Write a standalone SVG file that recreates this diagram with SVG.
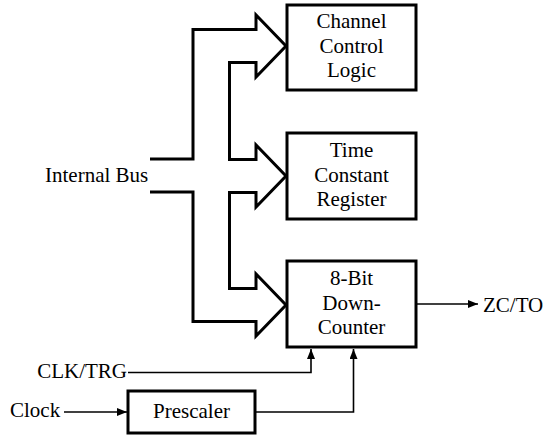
<svg xmlns="http://www.w3.org/2000/svg" width="554" height="438" viewBox="0 0 554 438">
<defs>
<marker id="ah" viewBox="0 0 10 8" refX="10" refY="4" markerWidth="10" markerHeight="8" markerUnits="userSpaceOnUse" orient="auto">
<path d="M0,0 L10,4 L0,8 Z" fill="#000"/>
</marker>
<style>
.box{fill:#fff;stroke:#000;stroke-width:3}
.bus{fill:none;stroke:#000;stroke-width:3;stroke-linejoin:miter}
.wire{fill:none;stroke:#000;stroke-width:1.6}
.t{font-family:'Liberation Serif','Times New Roman','DejaVu Serif',serif;font-size:21px;fill:#000}
.c{text-anchor:middle}
.e{text-anchor:end}
</style>
</defs>
<rect width="554" height="438" fill="#fff"/>
<g id="connectors">
<path id="internal-bus" class="bus" d="M150,159 H193 V29.5 H256 V15 L286,46 L256,77 V62.5 H229.5 V159.5 H256 V145 L286,176 L256,207 V192.5 H229.5 V288.5 H256 V274 L286,305 L256,336 V321.5 H193 V192 H150"/>
<path class="wire" d="M417,304 H478" marker-end="url(#ah)"/>
<path class="wire" d="M128,372.5 H311 V349" marker-end="url(#ah)"/>
<path class="wire" d="M64,412 H127" marker-end="url(#ah)"/>
<path class="wire" d="M255,412 H353.5 V349" marker-end="url(#ah)"/>
</g>
<g id="channel-control-logic" class="t" font-family="'Liberation Serif', 'Times New Roman', serif">
<rect class="box" x="287" y="5" width="129" height="85"/>
<text class="c" x="351.5" y="28">Channel</text>
<text class="c" x="351.5" y="53">Control</text>
<text class="c" x="351.5" y="77">Logic</text>
</g>
<g id="time-constant-register" class="t" font-family="'Liberation Serif', 'Times New Roman', serif">
<rect class="box" x="287" y="133" width="129" height="86"/>
<text class="c" x="351.5" y="157">Time</text>
<text class="c" x="351.5" y="182">Constant</text>
<text class="c" x="351.5" y="206">Register</text>
</g>
<g id="down-counter" class="t" font-family="'Liberation Serif', 'Times New Roman', serif">
<rect class="box" x="287" y="261" width="129" height="86"/>
<text class="c" x="351.5" y="285">8-Bit</text>
<text class="c" x="351.5" y="310">Down-</text>
<text class="c" x="351.5" y="334">Counter</text>
</g>
<g id="prescaler" class="t" font-family="'Liberation Serif', 'Times New Roman', serif">
<rect class="box" x="128" y="391" width="127" height="42"/>
<text class="c" x="191.5" y="418">Prescaler</text>
</g>
<g id="labels" class="t" font-family="'Liberation Serif', 'Times New Roman', serif">
<text x="45" y="182">Internal Bus</text>
<text x="483" y="312">ZC/TO</text>
<text class="e" x="127" y="378">CLK/TRG</text>
<text x="10" y="417">Clock</text>
</g>
</svg>
